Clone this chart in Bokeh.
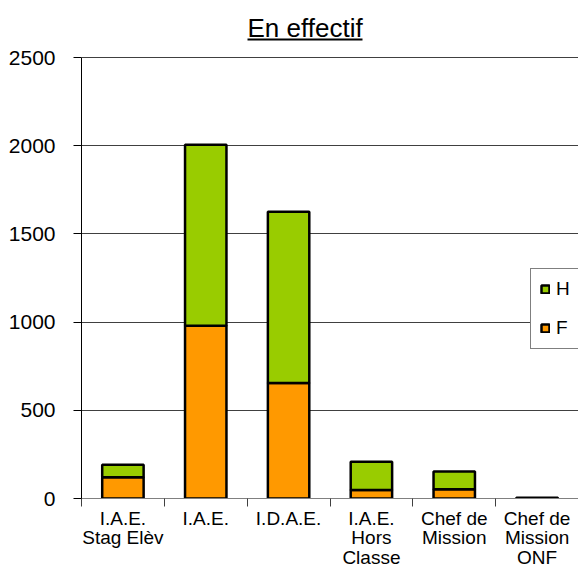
from bokeh.plotting import figure
from bokeh.models import (Range1d, FixedTicker, Legend, LegendItem, ColumnDataSource,
                          BoxAnnotation, Label)
from bokeh.embed import file_html
from bokeh.resources import INLINE

# ---- data ----
categories = ["I.A.E.\nStag Elèv", "I.A.E.", "I.D.A.E.", "I.A.E.\nHors\nClasse",
              "Chef de\nMission", "Chef de\nMission\nONF"]
F = [120, 980, 655, 48, 52, 2]
H = [72, 1025, 971, 160, 101, 2]
y_ticks = [0, 500, 1000, 1500, 2000, 2500]
title_text = "En effectif"

FONT = "Liberation Sans"
ORANGE = "#FF9900"
GREEN = "#99CC00"

n = len(categories)
xc = [i + 0.5 for i in range(n)]
bounds = list(range(n + 1))
src = ColumnDataSource(dict(x=xc, F=F, H=H))

# frame spans the whole height above the x axis; the value axis stops at 2500
y_max = y_ticks[-1]
y_end = y_max * 498 / 441

p = figure(width=578, height=571, output_backend="svg", toolbar_location=None,
           x_range=Range1d(0, n), y_range=Range1d(0, y_end),
           min_border_left=81, min_border_right=0, min_border_top=0,
           min_border_bottom=73)
p.outline_line_color = None
p.background_fill_color = "white"
p.border_fill_color = "white"

rs = p.vbar_stack(["F", "H"], x="x", width=0.5, source=src,
                  fill_color=[ORANGE, GREEN], line_color="black", line_width=2.5)

# y axis
p.yaxis.ticker = FixedTicker(ticks=y_ticks)
p.yaxis.bounds = (0, y_max)
p.yaxis.axis_line_color = "black"
p.yaxis.major_tick_line_color = "black"
p.yaxis.major_tick_out = 8
p.yaxis.major_tick_in = 0
p.yaxis.minor_tick_line_color = None
p.yaxis.major_label_standoff = 18
p.yaxis.major_label_text_font = FONT
p.yaxis.major_label_text_font_size = "21px"
p.yaxis.major_label_text_color = "black"

# x axis
p.xaxis.ticker = FixedTicker(ticks=xc, minor_ticks=bounds)
p.xaxis.major_label_overrides = {x: c for x, c in zip(xc, categories)}
p.xaxis.axis_line_color = "#808080"
p.xaxis.major_tick_line_color = None
p.xaxis.major_tick_out = 0
p.xaxis.major_tick_in = 0
p.xaxis.minor_tick_line_color = "#404040"
p.xaxis.minor_tick_out = 8
p.xaxis.minor_tick_in = 0
p.xaxis.major_label_standoff = 1
p.xaxis.major_label_text_font = FONT
p.xaxis.major_label_text_font_size = "19px"
p.xaxis.major_label_text_color = "black"
p.xaxis.major_label_text_line_height = 0.95

p.xgrid.visible = False
p.ygrid.grid_line_color = "#404040"
p.ygrid.grid_line_width = 1

legend = Legend(items=[LegendItem(label="H", renderers=[rs[1]]),
                       LegendItem(label="F", renderers=[rs[0]])],
                location=(449, 149), orientation="vertical")
legend.label_text_font = FONT
legend.label_text_font_size = "19px"
legend.label_text_color = "black"
legend.glyph_width = 10
legend.glyph_height = 10
legend.label_standoff = 6
legend.spacing = 17
legend.padding = 9
legend.margin = 0
legend.border_line_color = "black"
legend.border_line_width = 1
legend.background_fill_alpha = 1
p.add_layout(legend)

# title, underlined
title = Label(x=166, y=471, x_units="screen", y_units="screen", text=title_text,
              text_font=FONT, text_font_size="26px", text_color="black",
              text_baseline="alphabetic", text_align="left")
p.add_layout(title)
underline = BoxAnnotation(left=166, right=281, top=460, bottom=458,
                          left_units="screen", right_units="screen",
                          top_units="screen", bottom_units="screen",
                          fill_color="black", fill_alpha=1, line_color=None)
p.add_layout(underline)

open("out.html", "w").write(file_html(p, INLINE))
